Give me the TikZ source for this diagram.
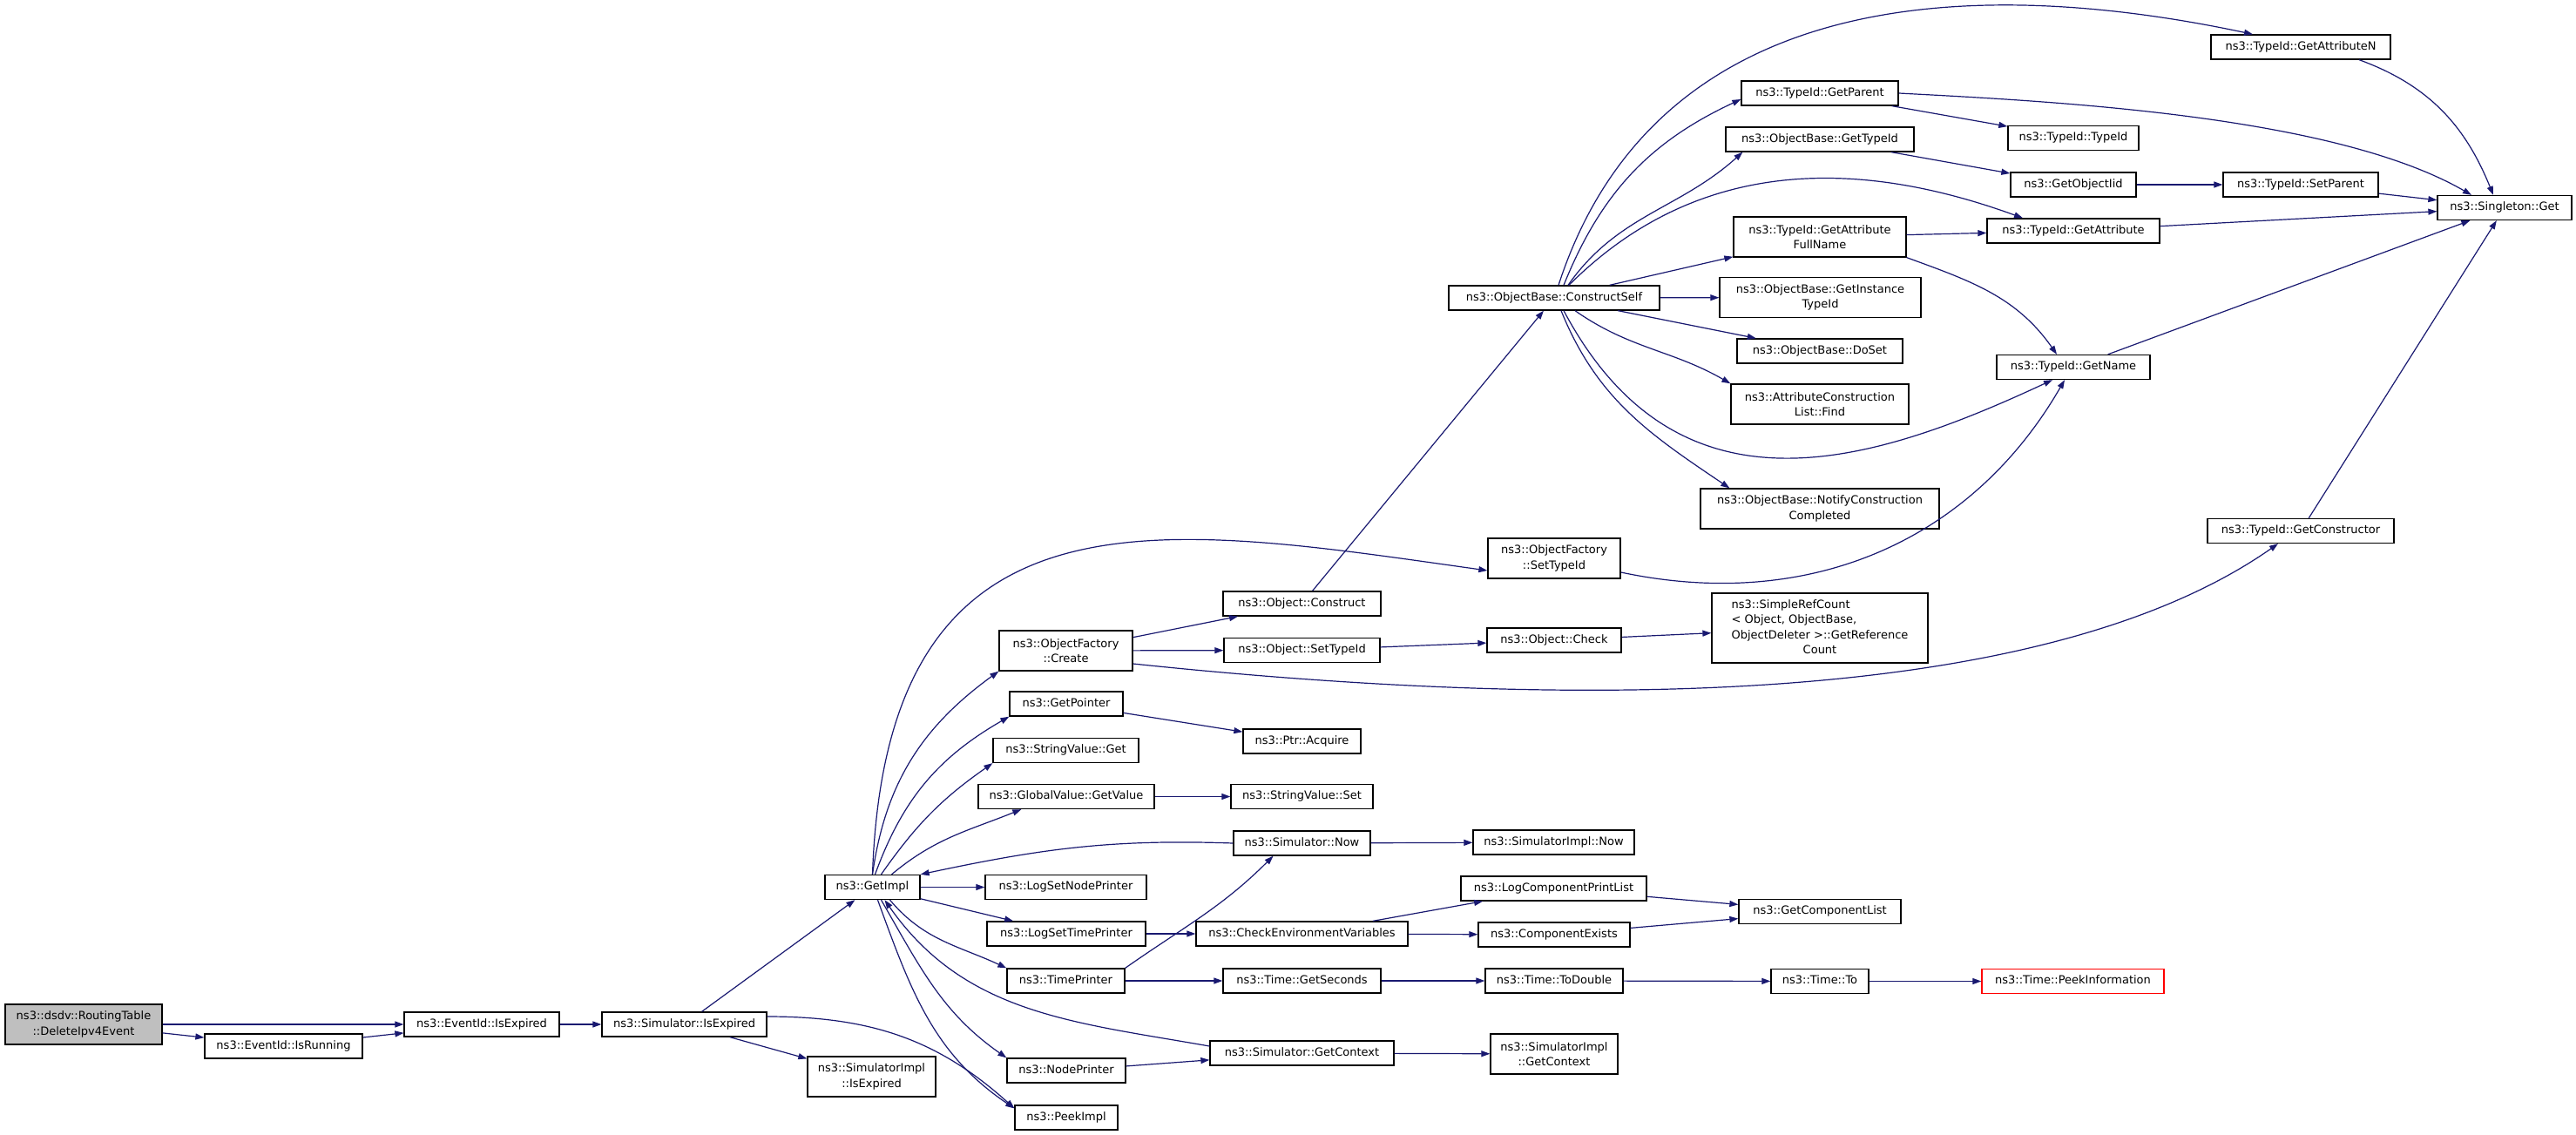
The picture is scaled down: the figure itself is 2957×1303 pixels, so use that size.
\documentclass[tikz,border=0pt]{standalone}
\usepackage{fontspec}
\setmainfont{DejaVu Sans}
\usepackage{xcolor}
\usetikzlibrary{arrows.meta}

\definecolor{edgeblue}{HTML}{191970}
\definecolor{rootgray}{HTML}{BFBFBF}

\tikzset{
  fnbase/.style={draw=black, line width=1.3pt, inner xsep=2pt, inner ysep=0pt,
    minimum height=28pt, font=\fontsize{13}{17.5}\selectfont},
  fnbox/.style={fnbase, text height=9.8pt, text depth=2.9pt},
  fnbox2/.style={fnbase, align=center, minimum height=46pt},
  calls/.style={draw=edgeblue, line width=1.2pt, -{Triangle[length=10pt,width=7pt]}}
}

\begin{document}
\begin{tikzpicture}[x=1pt, y=1pt]
  \useasboundingbox (0,0) rectangle (2957,-1303);

  % one-line functions: name/x/y/width/label
  \foreach \n/\x/\y/\w/\t in {
      isrun/325.5/1201/181/ns3::EventId::IsRunning,
      evexp/553/1176/178/ns3::EventId::IsExpired,
      simexp/785.5/1176/189/ns3::Simulator::IsExpired,
      peek/1224/1283/118/ns3::PeekImpl,
      getimpl/1001.5/1018.5/109/ns3::GetImpl,
      getptr/1224/808/130/ns3::GetPointer,
      strget/1223.5/861.5/167/ns3::StringValue::Get,
      gvget/1224/914.5/202/ns3::GlobalValue::GetValue,
      nodeprn/1223.5/1018.5/185/ns3::LogSetNodePrinter,
      timeprn/1224/1072/182/ns3::LogSetTimePrinter,
      tprinter/1223.5/1126/135/ns3::TimePrinter,
      nprinter/1224/1229/136/ns3::NodePrinter,
      construct/1494.5/693/181/ns3::Object::Construct,
      settid/1494.5/746.5/179/ns3::Object::SetTypeId,
      acquire/1494.5/851/135/ns3::Ptr::Acquire,
      strset/1494.5/914.5/163/ns3::StringValue::Set,
      simnow/1494.5/968/157/ns3::Simulator::Now,
      checkenv/1494.5/1072/243/ns3::CheckEnvironmentVariables,
      getsec/1494.5/1126/181/ns3::Time::GetSeconds,
      getctx/1494.5/1209/211/ns3::Simulator::GetContext,
      check/1784/735/154/ns3::Object::Check,
      implnow/1783.5/967/185/ns3::SimulatorImpl::Now,
      logcpl/1783.5/1020/213/ns3::LogComponentPrintList,
      compex/1784/1073/174/ns3::ComponentExists,
      todouble/1784/1126/158/ns3::Time::ToDouble,
      constself/1784/342/242/ns3::ObjectBase::ConstructSelf,
      getparent/2089/107/180/ns3::TypeId::GetParent,
      obgettid/2089/160/216/ns3::ObjectBase::GetTypeId,
      doset/2089/403/190/ns3::ObjectBase::DoSet,
      getcl/2089/1046.5/186/ns3::GetComponentList,
      timeto/2089/1126.5/112/ns3::Time::To,
      typeid/2380/158.5/150/ns3::TypeId::TypeId,
      getoid/2380/212/144/ns3::GetObjectIid,
      getattr/2380/265/198/ns3::TypeId::GetAttribute,
      getname/2380/421.5/176/ns3::TypeId::GetName,
      getattrn/2641/54/206/ns3::TypeId::GetAttributeN,
      setparent/2641/212/178/ns3::TypeId::SetParent,
      getctor/2641/609.5/214/ns3::TypeId::GetConstructor,
      singleton/2875/238.5/154/ns3::Singleton::Get}{%
    \node[fnbox, minimum width=\w pt] (\n) at (\x,-\y) {\t};
  }
  \node[fnbox, draw=red, minimum width=209pt] (peekinfo) at (2379.5,-1126.5) {ns3::Time::PeekInformation};

  % two-line functions
  \node[fnbox2, fill=rootgray, minimum width=180pt] (del) at (96,-1176) {ns3::dsdv::RoutingTable\\::DeleteIpv4Event};
  \node[fnbox2, minimum width=147pt] (implexp) at (1000.5,-1236) {ns3::SimulatorImpl\\::IsExpired};
  \node[fnbox2, minimum width=153pt] (create) at (1223.5,-747) {ns3::ObjectFactory\\::Create};
  \node[fnbox2, minimum width=152pt] (facsettid) at (1784,-641) {ns3::ObjectFactory\\::SetTypeId};
  \node[fnbox2, minimum width=146pt] (implctx) at (1784,-1210) {ns3::SimulatorImpl\\::GetContext};
  \node[fnbox2, minimum width=198pt] (fullname) at (2089,-272) {ns3::TypeId::GetAttribute\\FullName};
  \node[fnbox2, minimum width=231pt] (insttid) at (2089.5,-341.5) {ns3::ObjectBase::GetInstance\\TypeId};
  \node[fnbox2, minimum width=204pt] (find) at (2089,-464) {ns3::AttributeConstruction\\List::Find};
  \node[fnbox2, minimum width=274pt] (notify) at (2089,-584) {ns3::ObjectBase::NotifyConstruction\\Completed};
  \node[fnbase, minimum width=248pt, minimum height=80pt] (simpleref) at (2089,-721)
    {\begin{tabular}{@{}l@{}}ns3::SimpleRefCount\\< Object, ObjectBase,\\
     \multicolumn{1}{@{}c@{}}{ObjectDeleter >::GetReference}\\\multicolumn{1}{@{}c@{}}{Count}\end{tabular}};

  % straight calls
  \foreach \a/\b in {del/evexp, del/isrun, isrun/evexp, evexp/simexp, simexp/getimpl,
      simexp/implexp, getimpl/nodeprn, getimpl/timeprn, getptr/acquire, gvget/strset,
      simnow/implnow, create/construct, create/settid, settid/check, check/simpleref,
      construct/constself, timeprn/checkenv, checkenv/logcpl, checkenv/compex,
      logcpl/getcl, compex/getcl, tprinter/getsec, getsec/todouble, todouble/timeto,
      timeto/peekinfo, nprinter/getctx, getctx/implctx, constself/fullname,
      constself/insttid, constself/doset, getparent/typeid, obgettid/getoid,
      getoid/setparent, setparent/singleton, getattr/singleton, fullname/getattr,
      getname/singleton, getctor/singleton}{%
    \draw[calls] (\a) -- (\b);
  }

  % curved calls
  \draw[calls] ([yshift=9pt]simexp.east) to[out=0, in=138] ([yshift=-4pt]peek.north west);
  \draw[calls] (getimpl.north) .. controls +(88:460) and +(172:380) .. ([yshift=-14pt]facsettid.west);
  \draw[calls] (getimpl.north) to[out=82, in=216] (create.south west);
  \draw[calls] ([xshift=3pt]getimpl.north) to[out=70, in=210] (getptr.south west);
  \draw[calls] ([xshift=10pt]getimpl.north) to[out=55, in=215] (strget.south west);
  \draw[calls] ([xshift=22pt]getimpl.north) to[out=40, in=202] ([xshift=50pt]gvget.south west);
  \draw[calls] ([xshift=20pt]getimpl.south) to[out=-50, in=155] (tprinter.north west);
  \draw[calls] ([xshift=10pt]getimpl.south) to[out=-60, in=145] (nprinter.north west);
  \draw[calls] ([xshift=6pt]getimpl.south) to[out=-70, in=146] ([yshift=-4pt]peek.north west);
  \draw[calls] ([yshift=8pt]getctx.west) to[out=170, in=-55] ([xshift=14pt]getimpl.south);
  \draw[calls] (simnow.west) to[out=178, in=12] (getimpl.north east);
  \draw[calls] (tprinter.north east) to[out=35, in=225] ([xshift=-33pt]simnow.south);
  \draw[calls] ([yshift=-15pt]create.east) .. controls +(-6:450) and +(215:350) .. ([xshift=-26pt]getctor.south);
  \draw[calls] ([yshift=-16pt]facsettid.east) to[out=-12, in=240] ([xshift=-10pt]getname.south);

  \draw[calls] ([xshift=5pt]constself.north) .. controls +(72:360) and +(168:330) .. ([xshift=-55pt]getattrn.north);
  \draw[calls] ([xshift=11pt]constself.north) to[out=68, in=205] ([yshift=-7pt]getparent.west);
  \draw[calls] ([xshift=16pt]constself.north) to[out=55, in=222] ([xshift=20pt]obgettid.south west);
  \draw[calls] ([xshift=17pt]constself.north) to[out=45, in=160] ([xshift=-58pt]getattr.north);
  \draw[calls] ([xshift=24pt]constself.south) to[out=-35, in=150] (find.north west);
  \draw[calls] ([xshift=11pt]constself.south) .. controls +(-62:280) and +(205:230) .. ([xshift=-24pt]getname.south);
  \draw[calls] ([xshift=8pt]constself.south) to[out=-68, in=146] ([xshift=34pt]notify.north west);

  \draw[calls] (getparent.east) to[out=-3, in=150, looseness=0.7] ([xshift=-38pt]singleton.north);
  \draw[calls] (fullname.south east) to[out=-20, in=125] ([xshift=-19pt]getname.north);
  \draw[calls] ([xshift=67pt]getattrn.south) to[out=-20, in=112] ([xshift=-13pt]singleton.north);
\end{tikzpicture}
\end{document}
